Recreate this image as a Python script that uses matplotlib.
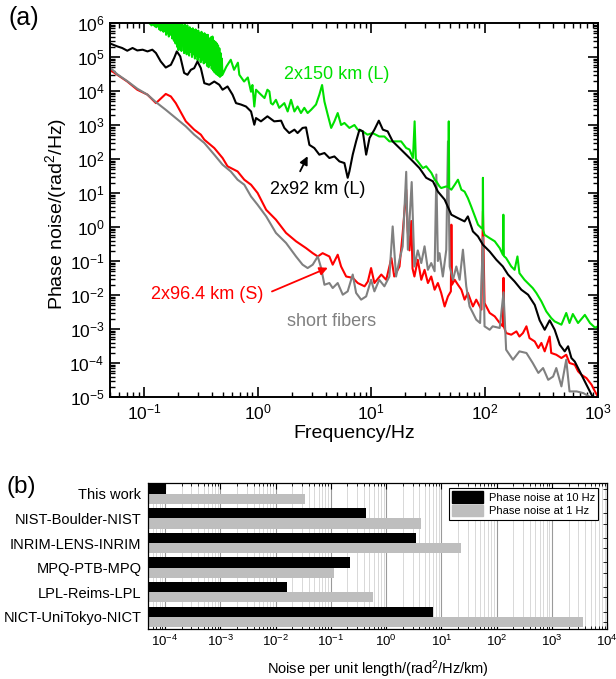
import numpy as np
import matplotlib
matplotlib.use('Agg')
import matplotlib.pyplot as plt
from matplotlib.ticker import LogLocator, NullFormatter
from matplotlib.patches import Patch

plt.rcParams['font.family'] = ['Liberation Sans', 'DejaVu Sans']
plt.rcParams['mathtext.fontset'] = 'custom'
plt.rcParams['mathtext.rm'] = 'Liberation Sans'
plt.rcParams['mathtext.it'] = 'Liberation Sans:italic'
plt.rcParams['mathtext.bf'] = 'Liberation Sans:bold'

# (a) phase noise spectra, frequency in Hz, noise in rad^2/Hz
long92_f = [0.05, 0.058, 0.064, 0.071, 0.079, 0.087, 0.097, 0.107, 0.118, 0.127,
            0.14, 0.155, 0.172, 0.184, 0.194, 0.208, 0.225, 0.241, 0.258, 0.276,
            0.295, 0.316, 0.339, 0.375, 0.415, 0.459, 0.491, 0.543, 0.601, 0.645,
            0.713, 0.79, 0.875, 0.935, 0.968, 1.07, 1.22, 1.40, 1.61, 1.72,
            1.90, 2.11, 2.25, 2.49, 2.67, 2.86, 3.16, 3.50, 3.88, 4.29,
            4.75, 5.26, 5.82, 6.22, 6.44, 6.89, 7.38, 7.90, 8.45, 9.05,
            9.69, 10.7, 11.7, 12.7, 14.0, 15.5, 17.8, 20.4, 23.4, 26.7,
            30.6, 35.1, 38.8, 44.5, 51, 58, 66.7, 71.3, 79, 87.5,
            96.8, 111, 127, 145, 161, 184, 211, 242, 277, 306,
            339, 375, 415, 460, 509, 545, 583, 624, 667, 715,
            791, 877, 920]
long92_s = [2.5e5, 2.05e5, 1.84e5, 1.53e5, 1.84e5, 1.56e5, 1.64e5, 1.46e5, 1.64e5, 1.31e5,
            7.4e4, 4.9e4, 5.9e4, 9.4e4, 1.46e5, 1.04e5, 3.4e4, 3.0e4, 4.2e4, 4.7e4,
            7.4e4, 4.7e4, 1.7e4, 1.53e4, 1.9e4, 1.53e4, 1.09e4, 1.36e4, 7.8e3, 4.4e3,
            4.0e3, 3.5e3, 2.5e3, 1.02e3, 1.6e3, 1.28e3, 1.8e3, 1.28e3, 1.34e3, 820,
            580, 730, 580, 820, 850, 260, 210, 134, 150, 107,
            119, 85, 76, 28, 43, 134, 330, 730, 650, 134,
            415, 730, 1340, 730, 650, 330, 210, 134, 85, 54,
            28, 22, 11, 6.4, 2.3, 1.84, 1.46, 2.05, 0.74, 0.53,
            0.30, 0.19, 0.109, 0.069, 0.040, 0.025, 0.0143, 0.0102, 5.1e-3, 1.8e-3,
            9.5e-4, 1.8e-3, 9.5e-4, 3.45e-4, 2.2e-4, 3.1e-4, 1.4e-4, 1.1e-4, 7.1e-5, 4.5e-5,
            2.3e-5, 1.17e-5, 9e-6]

long150_f = [0.100, 0.106, 0.109, 0.112, 0.114, 0.116, 0.118, 0.120, 0.122, 0.124,
             0.126, 0.128, 0.130, 0.132, 0.134, 0.136, 0.138, 0.140, 0.142, 0.144,
             0.146, 0.148, 0.150, 0.152, 0.154, 0.156, 0.158, 0.160, 0.162, 0.165,
             0.168, 0.171, 0.174, 0.177, 0.180, 0.183, 0.186, 0.189, 0.192, 0.195,
             0.198, 0.201, 0.204, 0.207, 0.210, 0.213, 0.216, 0.219, 0.222, 0.225,
             0.228, 0.231, 0.234, 0.237, 0.240, 0.243, 0.246, 0.249, 0.252, 0.256,
             0.260, 0.264, 0.268, 0.272, 0.276, 0.280, 0.284, 0.288, 0.292, 0.296,
             0.300, 0.305, 0.310, 0.315, 0.320, 0.325, 0.330, 0.335, 0.340, 0.346,
             0.352, 0.358, 0.364, 0.370, 0.376, 0.382, 0.388, 0.394, 0.400, 0.406,
             0.412, 0.418, 0.424, 0.430, 0.436, 0.442, 0.448, 0.454, 0.460, 0.466,
             0.472, 0.478, 0.484, 0.490,
             0.53, 0.58, 0.62, 0.67, 0.69, 0.76, 0.82, 0.875, 0.90, 0.935,
             0.968, 1.035, 1.15, 1.22, 1.27, 1.31, 1.36, 1.45, 1.55, 1.72,
             1.84, 1.97, 2.11, 2.25, 2.41, 2.58, 2.76, 2.96, 3.27, 3.5,
             3.70, 3.88, 4.15, 4.45, 4.75, 5.08, 5.44, 5.82, 6.44, 7.13,
             7.63, 8.45, 9.3, 10.3, 11.8, 13.1, 14.5, 16.0, 18.4, 20.4,
             21.8, 23.4, 24.2, 24.8, 25.8, 28.6, 30.6, 34.0, 36.4, 37.6,
             40.1, 41.5, 46.0, 48.0, 48.4, 48.8, 51, 54.6, 58.3, 62.5,
             66.7, 71.3, 76.3, 87.6, 93.9, 96.2, 96.8, 97.4, 100, 111,
             123, 136, 145, 146.5, 148, 155, 172, 184, 195, 203,
             225, 249, 266, 286, 317, 350, 387, 415, 476, 525,
             561, 600, 667, 766, 850, 940, 1000]
long150_s = [2.0e6, 1.1e6, 1.7e6, 9.5e5, 1.5e6, 8.5e5, 1.6e6, 9e5, 1.4e6, 8e5,
             1.5e6, 7.5e5, 1.3e6, 8e5, 1.5e6, 6.5e5, 1.4e6, 6e5, 1.2e6, 7e5,
             1.4e6, 5.5e5, 1.3e6, 6e5, 1.4e6, 4.5e5, 1.1e6, 5e5, 1.3e6, 4e5,
             1.2e6, 4.5e5, 1.3e6, 3.5e5, 1.1e6, 3e5, 1.2e6, 2.5e5, 1.0e6, 2e5,
             9e5, 1.6e5, 1.1e6, 2.2e5, 9e5, 1.5e5, 1.0e6, 2.4e5, 8e5, 1.3e5,
             9e5, 1.8e5, 7.5e5, 1.2e5, 8.5e5, 1.6e5, 7e5, 1.1e5, 7.5e5, 1.4e5,
             6.5e5, 1.0e5, 7e5, 1.2e5, 6e5, 9e4, 6.5e5, 1.1e5, 5.5e5, 8e4,
             6e5, 1e5, 5e5, 7e4, 5.5e5, 8.5e4, 4.5e5, 6.5e4, 5e5, 7e4,
             4.5e5, 5.5e4, 4.5e5, 5e4, 3.5e5, 6e4, 3.8e5, 4.5e4, 4e5, 4e4,
             3e5, 3.5e4, 2.8e5, 3.2e4, 2.5e5, 3e4, 2.2e5, 2.8e4, 1.8e5, 2.6e4,
             1.3e5, 2.8e4, 9e4, 3e4,
             5.2e4, 8.3e4, 4.2e4, 6.8e4, 3.0e4, 1.9e4, 2.5e4, 9.5e3, 1.5e4, 3.5e3,
             1.09e4, 8.7e3, 6.2e3, 1.09e4, 9.7e3, 4.4e3, 4.0e3, 5.5e3, 3.2e3, 4.4e3,
             2.5e3, 5.5e3, 2.5e3, 3.5e3, 2.25e3, 3.2e3, 2.25e3, 2.8e3, 4.0e3, 7.8e3,
             1.5e4, 4.9e3, 2.0e3, 820, 1.28e3, 2.25e3, 1.0e3, 1.15e3, 820, 1.0e3,
             730, 650, 520, 580, 460, 460, 330, 330, 330, 210,
             190, 107, 1280, 100, 85, 54, 61, 39, 24.6, 22,
             15.6, 14, 15.6, 15, 1280, 14, 12.5, 17.5, 24.6, 12.5,
             11, 7.1, 4.0, 1.17, 0.93, 0.9, 28, 0.8, 0.59, 0.47,
             0.38, 0.24, 0.153, 2.3, 0.14, 0.122, 0.069, 0.055, 0.136, 0.044,
             0.028, 0.020, 0.016, 0.0115, 6.5e-3, 3.3e-3, 2.1e-3, 1.67e-3, 1.34e-3, 2.96e-3,
             1.5e-3, 2.76e-3, 1.5e-3, 2.6e-3, 1.5e-3, 1.1e-3, 1.2e-3]

short96_f = [0.05, 0.058, 0.071, 0.087, 0.107, 0.127, 0.155, 0.172, 0.19, 0.233,
             0.276, 0.316, 0.339, 0.415, 0.491, 0.543, 0.666, 0.763, 0.875, 1.0,
             1.15, 1.19, 1.45, 1.78, 2.18, 2.67, 3.06, 3.39, 3.74, 4.29,
             4.59, 5.08, 5.44, 6.03, 6.89, 7.63, 8.76, 9.37, 10.0, 10.7,
             12.3, 13.6, 15.1, 16.0, 17.8, 19.0, 20.4, 21.0, 21.8, 22.6,
             23.2, 24.1, 25.8, 27.7, 29.6, 31.7, 33.9, 36.3, 38.8, 41.5,
             44.5, 47.6, 50.5, 51, 51.6, 54.6, 58.3, 62.5, 66.7, 71.3,
             79, 84.5, 93.9, 96.8, 100, 111, 123, 136, 145, 147,
             149, 155, 172, 191, 203, 218, 234, 249, 277, 298,
             317, 339, 375, 387, 429, 476, 525, 561, 624, 667,
             715, 791, 877, 940, 1000]
short96_s = [4.2e4, 3.0e4, 1.9e4, 1.09e4, 7.8e3, 4.4e3, 8.2e3, 6.9e3, 4.4e3, 1.28e3,
             730, 520, 370, 210, 107, 61, 43, 24.6, 17.5, 10,
             4.0, 3.2, 1.64, 0.67, 0.38, 0.24, 0.17, 0.136, 0.17, 0.136,
             0.078, 0.153, 0.069, 0.035, 0.032, 0.0225, 0.018, 0.025, 0.062, 0.0225,
             0.040, 0.028, 0.122, 0.035, 0.069, 0.67, 12.5, 0.8, 0.205, 1.5,
             0.06, 0.035, 0.109, 0.028, 0.055, 0.0225, 0.035, 0.0143, 0.0225, 0.0115,
             4.6e-3, 9.1e-3, 0.0128, 1.17, 0.02, 0.028, 0.020, 0.0143, 7.3e-3, 0.0115,
             4.6e-3, 7.3e-3, 3.7e-3, 2.9, 5.8e-3, 2.96e-3, 2.35e-3, 1.5e-3, 1.2e-3, 0.032,
             1.1e-3, 7.6e-4, 6.8e-4, 8.5e-4, 6.0e-4, 7.6e-4, 1.2e-3, 5.4e-4, 4.3e-4, 2.76e-4,
             3.9e-4, 2.2e-4, 6.0e-4, 1.97e-4, 1.75e-4, 1.4e-4, 1.75e-4, 1.0e-4, 8.9e-5, 5.7e-5,
             4.5e-5, 3.6e-5, 2.3e-5, 1.46e-5, 1.0e-5]

fibers_f = [0.05, 0.058, 0.071, 0.087, 0.107, 0.127, 0.155, 0.19, 0.233, 0.276,
            0.339, 0.415, 0.491, 0.58, 0.666, 0.763, 0.875, 1.0, 1.19, 1.45,
            1.78, 2.18, 2.49, 2.76, 3.06, 3.39, 3.63, 3.88, 4.29, 4.59,
            5.08, 5.63, 6.22, 6.89, 7.38, 8.17, 9.05, 10.0, 10.7, 11.8,
            13.1, 14.5, 15.5, 16.6, 17.8, 19.0, 20.4, 21.1, 22.8, 24.1,
            25.8, 27.7, 29.6, 31.7, 33.9, 36.3, 37.6, 38.8, 40.1, 42.9,
            46, 47.6, 49.3, 52.7, 56.4, 60.3, 64.5, 69, 73.8, 79,
            84.5, 91.4, 96.8, 100, 111, 118, 136, 147, 155, 178,
            203, 234, 266, 298, 328, 364, 402, 429, 476, 525,
            561, 647, 744, 850, 920]
fibers_s = [4.9e4, 3.1e4, 1.95e4, 1.17e4, 7.8e3, 4.7e3, 2.8e3, 1.6e3, 910, 520,
            296, 134, 68, 43, 24.6, 17.5, 7.9, 4.5, 2.05, 0.67,
            0.34, 0.136, 0.078, 0.062, 0.078, 0.136, 0.062, 0.020, 0.0225, 0.016,
            0.0225, 0.0102, 0.0128, 0.040, 0.0115, 7.3e-3, 9.1e-3, 0.028, 0.0128, 0.028,
            0.018, 0.035, 1.04, 0.035, 0.109, 0.27, 42, 0.215, 21, 0.069,
            0.205, 0.087, 0.27, 0.055, 0.087, 0.05, 35, 0.1, 0.17, 0.035,
            0.215, 330, 0.069, 0.028, 0.069, 0.028, 0.215, 0.018, 4.6e-3, 2.96e-3,
            1.88e-3, 1.5e-3, 0.5, 1.2e-3, 9.5e-4, 1.2e-3, 1.07e-3, 0.012, 2.46e-4, 1.25e-4,
            2.2e-4, 1.97e-4, 1e-4, 5.1e-5, 7.1e-5, 3.2e-5, 4e-5, 7.1e-5, 2.05e-5, 1.25e-4,
            1.46e-5, 1.46e-5, 1.3e-5, 1e-5, 8e-6]

# (b) noise per unit length, rad^2/Hz/km
links = ['This work', 'NIST-Boulder-NIST', 'INRIM-LENS-INRIM',
         'MPQ-PTB-MPQ', 'LPL-Reims-LPL', 'NICT-UniTokyo-NICT']
noise_10hz = [1.03e-4, 0.43, 3.4, 0.22, 0.0163, 7.1]
noise_1hz = [0.034, 4.2, 23, 0.114, 0.57, 3600]

GREEN = '#00e000'
RED = '#ff0000'
GRAY = '#808080'

fig = plt.figure(figsize=(6.16, 6.79), dpi=100)
ax = fig.add_axes([110 / 616, 1 - 397 / 679, 488 / 616, 374 / 679])
ax2 = fig.add_axes([148.3 / 616, 1 - 629.3 / 679, 459 / 616, 146.6 / 679])

# ---- top panel
ax.plot(short96_f, short96_s, color=RED, lw=1.5)
ax.plot(fibers_f, fibers_s, color=GRAY, lw=1.5)
ax.plot(long150_f, long150_s, color=GREEN, lw=1.5)
ax.plot(long92_f, long92_s, color='black', lw=1.5)

ax.set_xscale('log')
ax.set_yscale('log')
ax.set_xlim(0.05, 1000)
ax.set_ylim(1e-5, 1e6)
ax.yaxis.set_major_locator(LogLocator(base=10, numticks=15))
ax.yaxis.set_minor_locator(LogLocator(base=10, subs=np.arange(2, 10), numticks=15))
ax.yaxis.set_minor_formatter(NullFormatter())
ax.xaxis.set_minor_formatter(NullFormatter())
ax.tick_params(which='both', direction='in', top=True, right=True, labelsize=12.5)
ax.tick_params(which='major', length=7, width=1.2, pad=4)
ax.tick_params(which='minor', length=3.5, width=1)
for s in ax.spines.values():
    s.set_linewidth(1.4)

ax.set_xlabel('Frequency/Hz', fontsize=14, labelpad=2)
ax.set_ylabel('Phase noise/(rad$^2$/Hz)', fontsize=14)
ax.yaxis.set_label_coords(-0.083, 0.49)

ax.text(4.95, 3.0e4, '2x150 km (L)', color=GREEN, fontsize=13, ha='center', va='center')
ax.text(3.37, 12.6, '2x92 km (L)', color='black', fontsize=13, ha='center', va='center')
ax.text(0.36, 0.0102, '2x96.4 km (S)', color=RED, fontsize=13, ha='center', va='center')
ax.text(4.47, 1.64e-3, 'short fibers', color=GRAY, fontsize=13, ha='center', va='center')
ax.annotate('', xy=(2.83, 143), xytext=(2.31, 36.7),
            arrowprops=dict(arrowstyle='-|>', color='black', lw=1.3, mutation_scale=12))
ax.annotate('', xy=(4.38, 0.068), xytext=(1.27, 0.0118),
            arrowprops=dict(arrowstyle='-|>', color=RED, lw=1.3, mutation_scale=12))

# ---- bottom panel
ypos = np.arange(len(links))
ax2.barh(ypos - 0.205, noise_10hz, height=0.41, left=1e-6, color='black', zorder=2)
ax2.barh(ypos + 0.205, noise_1hz, height=0.41, left=1e-6, color='#bebebe', zorder=2)
ax2.set_xscale('log')
ax2.set_xlim(5e-5, 1e4)
ax2.set_ylim(5.52, -0.46)
ax2.set_yticks(ypos)
ax2.set_yticklabels(links, fontsize=10.5)
ax2.set_yticks(np.concatenate([ypos - 0.205, ypos + 0.205]), minor=True)
ax2.tick_params(axis='y', which='major', length=0, pad=5)
ax2.tick_params(axis='y', which='minor', left=False, right=True, direction='in', length=3)
ax2.xaxis.set_major_locator(LogLocator(base=10, numticks=12))
ax2.xaxis.set_minor_locator(LogLocator(base=10, subs=np.arange(2, 10), numticks=12))
ax2.xaxis.set_minor_formatter(NullFormatter())
ax2.tick_params(axis='x', which='both', direction='in', top=True, labelsize=9.5)
ax2.tick_params(axis='x', which='major', length=4)
ax2.tick_params(axis='x', which='minor', length=2)
ax2.grid(True, which='major', axis='x', color='#9a9a9a', lw=0.8)
ax2.grid(True, which='minor', axis='x', color='#d2d2d2', lw=0.6)
ax2.set_axisbelow(True)
for s in ax2.spines.values():
    s.set_linewidth(0.9)

leg = ax2.legend(handles=[Patch(color='black', label='Phase noise at 10 Hz'),
                          Patch(color='#bebebe', label='Phase noise at 1 Hz')],
                 loc='upper right', bbox_to_anchor=(0.98, 0.965), borderaxespad=0,
                 fontsize=8, fancybox=False, edgecolor='black', framealpha=1,
                 handlelength=2.8, handleheight=1.25, labelspacing=0.15,
                 borderpad=0.3, handletextpad=0.5)
leg.get_frame().set_linewidth(0.8)

fig.text(378 / 616, 1 - 674 / 679, 'Noise per unit length/(rad$^2$/Hz/km)',
         fontsize=10.5, ha='center', va='baseline')
fig.text(8 / 616, 1 - 6 / 679, '(a)', fontsize=18, va='top', ha='left')
fig.text(7 / 616, 1 - 476 / 679, '(b)', fontsize=17.5, va='top', ha='left')

fig.savefig('out.png', dpi=100)
